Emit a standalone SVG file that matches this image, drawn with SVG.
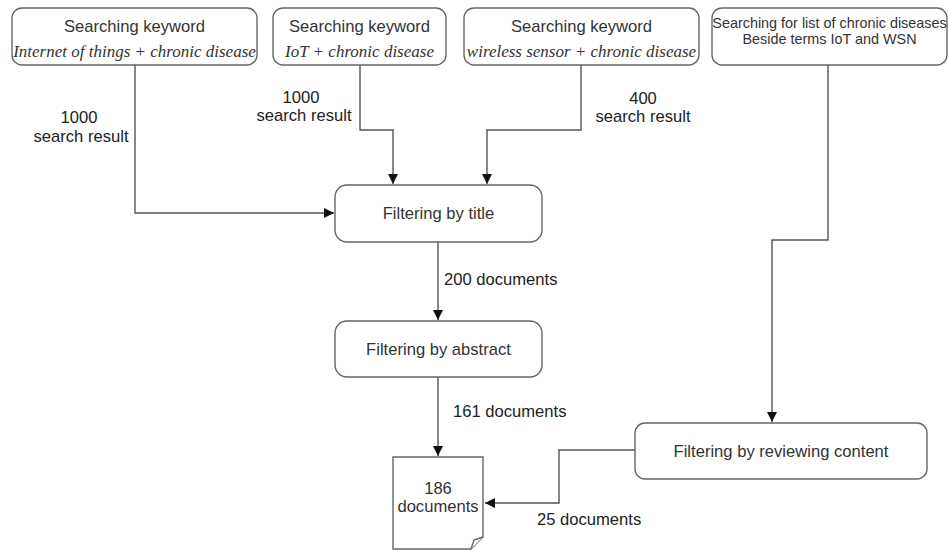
<svg xmlns="http://www.w3.org/2000/svg" width="948" height="551" viewBox="0 0 948 551">
<defs>
<marker id="ah" viewBox="0 0 10 10" refX="10" refY="5" markerWidth="10" markerHeight="10" markerUnits="userSpaceOnUse" orient="auto">
<path d="M0,0 L10,5 L0,10 z" fill="#111"/>
</marker>
<style>
.box{fill:#fff;stroke:#666;stroke-width:1.4}
.t{font-family:"Liberation Sans",Arial,sans-serif;font-size:16.6px;fill:#333;text-anchor:middle}
.i{font-family:"Liberation Serif","Times New Roman",serif;font-style:italic;font-size:17px;fill:#333;text-anchor:middle}
.l{font-family:"Liberation Sans",Arial,sans-serif;font-size:16.6px;fill:#222}
.c{fill:none;stroke:#555;stroke-width:1.4}
</style>
</defs>
<rect width="948" height="551" fill="#fff"/>
<g id="connectors">
<path class="c" d="M135,65 V213 H334" marker-end="url(#ah)"/>
<path class="c" d="M360,65 V130 H393 V184" marker-end="url(#ah)"/>
<path class="c" d="M581,65 V130 H487 V184" marker-end="url(#ah)"/>
<path class="c" d="M438,242 V320" marker-end="url(#ah)"/>
<path class="c" d="M438,377 V456" marker-end="url(#ah)"/>
<path class="c" d="M828,65 V240 H772 V422" marker-end="url(#ah)"/>
<path class="c" d="M635,450 H559 V503 H485" marker-end="url(#ah)"/>
<text class="l" x="79" y="123" text-anchor="middle">1000</text>
<text class="l" x="81" y="142" text-anchor="middle">search result</text>
<text class="l" x="301" y="103" text-anchor="middle">1000</text>
<text class="l" x="304" y="121" text-anchor="middle">search result</text>
<text class="l" x="643" y="104" text-anchor="middle">400</text>
<text class="l" x="643" y="122" text-anchor="middle">search result</text>
<text class="l" x="444" y="285">200 documents</text>
<text class="l" x="453" y="417">161 documents</text>
<text class="l" x="537" y="525">25 documents</text>
</g>
<g id="n1">
<rect class="box" x="12" y="8" width="245" height="57" rx="10"/>
<text class="t" x="134.5" y="32">Searching keyword</text>
<text class="i" x="134.5" y="57">Internet of things + chronic disease</text>
</g>
<g id="n2">
<rect class="box" x="273" y="8" width="173" height="57" rx="10"/>
<text class="t" x="359.5" y="32">Searching keyword</text>
<text class="i" x="359.5" y="57">IoT + chronic disease</text>
</g>
<g id="n3">
<rect class="box" x="464" y="8" width="235" height="57" rx="10"/>
<text class="t" x="581.5" y="32">Searching keyword</text>
<text class="i" x="581.5" y="57">wireless sensor + chronic disease</text>
</g>
<g id="n4">
<rect class="box" x="712" y="8" width="235" height="57" rx="10"/>
<text class="t" x="829.5" y="28" style="font-size:14.4px">Searching for list of chronic diseases</text>
<text class="t" x="829.5" y="44" style="font-size:14.4px">Beside terms IoT and WSN</text>
</g>
<g id="n5">
<rect class="box" x="335" y="185" width="207" height="57" rx="12"/>
<text class="t" x="438.5" y="219">Filtering by title</text>
</g>
<g id="n6">
<rect class="box" x="335" y="321" width="207" height="56" rx="12"/>
<text class="t" x="438.5" y="355">Filtering by abstract</text>
</g>
<g id="n7">
<path class="box" d="M393,457 H483 V537 L471,549 H393 Z"/>
<path class="box" d="M471,549 L474,540 L483,537"/>
<text class="t" x="438" y="494">186</text>
<text class="t" x="438" y="512">documents</text>
</g>
<g id="n8">
<rect class="box" x="635" y="423" width="292" height="56" rx="10"/>
<text class="t" x="781" y="457">Filtering by reviewing content</text>
</g>
</svg>
